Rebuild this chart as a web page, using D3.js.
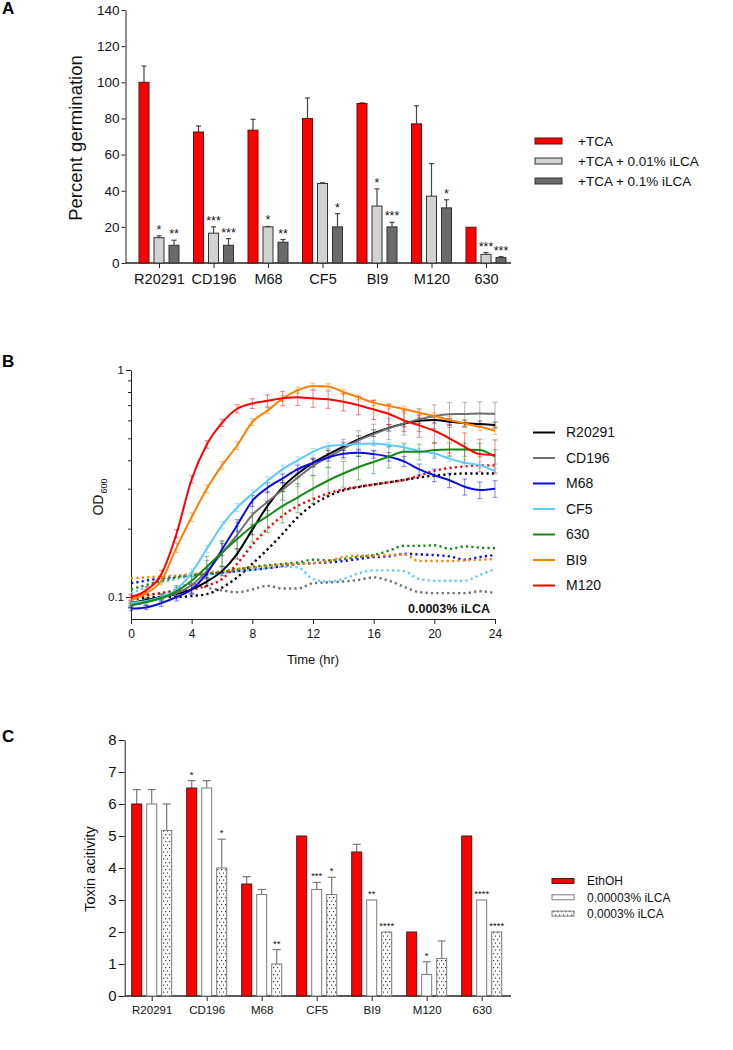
<!DOCTYPE html>
<html>
<head>
<meta charset="utf-8">
<script src="https://cdn.jsdelivr.net/npm/d3@7"></script>
<style>
  body { margin: 0; background: #fff; }
  svg { display: block; font-family: "Liberation Sans", Arial, sans-serif; }
</style>
</head>
<body>
<svg id="fig" width="733" height="1050"></svg>
<script>

//// DATA ////

// strains shared by panels A and C
var strains = ["R20291", "CD196", "M68", "CF5", "BI9", "M120", "630"];

// panel A: percent germination (mean, upper error)
var germTca = [100, 72.5, 73.5, 80, 88.3, 77, 19.8];
var germTcaErr = [9, 3.3, 6, 11.3, 0.3, 10, 0];
var germLow = [14, 16.5, 20, 44, 31.5, 37, 4.8];
var germLowErr = [1, 3.5, 0.2, 0.4, 9.5, 18, 1];
var germHigh = [9.8, 9.8, 11.5, 20, 20, 30.5, 3];
var germHighErr = [2.8, 3.7, 1.5, 7.3, 2.5, 4.5, 0.5];
var germLowStars = ["*", "***", "*", "", "*", "", "***"];
var germHighStars = ["**", "***", "**", "*", "***", "*", "***"];
var germTicks = [0, 20, 40, 60, 80, 100, 120, 140];
var germLegend = ["+TCA", "+TCA + 0.01% iLCA", "+TCA + 0.1% iLCA"];

// panel B: OD600 growth curves, hourly
var hours = [0, 1, 2, 3, 4, 5, 6, 7, 8, 9, 10, 11, 12, 13, 14, 15, 16, 17, 18, 19, 20, 21, 22, 23, 24];
var growthStrains = ["R20291", "CD196", "M68", "CF5", "630", "BI9", "M120"];

var odR20291 = [0.094, 0.097, 0.1, 0.103, 0.108, 0.117, 0.13, 0.155, 0.198, 0.252, 0.305, 0.35, 0.39, 0.425, 0.46, 0.495, 0.527, 0.556, 0.58, 0.597, 0.602, 0.592, 0.583, 0.578, 0.572];
var odCD196 = [0.092, 0.095, 0.099, 0.104, 0.113, 0.13, 0.156, 0.188, 0.23, 0.262, 0.297, 0.336, 0.378, 0.413, 0.45, 0.49, 0.522, 0.553, 0.582, 0.606, 0.627, 0.638, 0.64, 0.644, 0.642];
var odM68 = [0.089, 0.09, 0.094, 0.1, 0.108, 0.127, 0.162, 0.207, 0.265, 0.303, 0.333, 0.366, 0.39, 0.412, 0.428, 0.432, 0.426, 0.415, 0.396, 0.365, 0.344, 0.327, 0.306, 0.296, 0.3];
var odCF5 = [0.094, 0.096, 0.1, 0.108, 0.128, 0.163, 0.207, 0.248, 0.285, 0.325, 0.366, 0.4, 0.436, 0.462, 0.467, 0.472, 0.475, 0.467, 0.456, 0.44, 0.429, 0.407, 0.39, 0.381, 0.358];
var od630 = [0.092, 0.095, 0.099, 0.106, 0.118, 0.136, 0.157, 0.18, 0.205, 0.227, 0.252, 0.275, 0.3, 0.326, 0.35, 0.373, 0.394, 0.415, 0.436, 0.436, 0.444, 0.447, 0.447, 0.444, 0.415];
var odBI9 = [0.097, 0.104, 0.118, 0.165, 0.225, 0.3, 0.38, 0.465, 0.59, 0.662, 0.748, 0.815, 0.85, 0.845, 0.8, 0.758, 0.718, 0.694, 0.673, 0.648, 0.627, 0.602, 0.582, 0.562, 0.54];
var odM120 = [0.1, 0.107, 0.126, 0.19, 0.33, 0.47, 0.585, 0.675, 0.712, 0.732, 0.75, 0.758, 0.75, 0.743, 0.725, 0.7, 0.67, 0.64, 0.6, 0.57, 0.54, 0.5, 0.458, 0.426, 0.422];

var sdR20291 = [0.002, 0.002, 0.003, 0.003, 0.004, 0.005, 0.006, 0.008, 0.01, 0.012, 0.014, 0.015, 0.016, 0.017, 0.018, 0.018, 0.018, 0.018, 0.018, 0.018, 0.018, 0.018, 0.018, 0.018, 0.018];
var sdCD196 = [0.002, 0.003, 0.004, 0.006, 0.01, 0.015, 0.02, 0.025, 0.03, 0.03, 0.03, 0.03, 0.035, 0.04, 0.045, 0.05, 0.055, 0.06, 0.065, 0.07, 0.075, 0.08, 0.08, 0.08, 0.08];
var sdM68 = [0.002, 0.002, 0.003, 0.004, 0.005, 0.007, 0.01, 0.012, 0.015, 0.015, 0.015, 0.015, 0.015, 0.015, 0.016, 0.016, 0.017, 0.018, 0.02, 0.02, 0.022, 0.024, 0.025, 0.025, 0.025];
var sdCF5 = [0.002, 0.002, 0.003, 0.004, 0.005, 0.006, 0.008, 0.01, 0.012, 0.014, 0.015, 0.015, 0.015, 0.015, 0.014, 0.013, 0.012, 0.012, 0.012, 0.012, 0.012, 0.012, 0.012, 0.012, 0.012];
var sd630 = [0.002, 0.003, 0.004, 0.006, 0.01, 0.015, 0.02, 0.025, 0.03, 0.035, 0.04, 0.04, 0.042, 0.045, 0.045, 0.045, 0.045, 0.045, 0.04, 0.035, 0.035, 0.03, 0.03, 0.03, 0.03];
var sdBI9 = [0.003, 0.004, 0.005, 0.008, 0.01, 0.012, 0.015, 0.018, 0.02, 0.02, 0.022, 0.025, 0.025, 0.025, 0.022, 0.02, 0.02, 0.02, 0.02, 0.02, 0.02, 0.02, 0.02, 0.02, 0.02];
var sdM120 = [0.003, 0.004, 0.005, 0.008, 0.012, 0.018, 0.022, 0.028, 0.035, 0.045, 0.055, 0.06, 0.065, 0.065, 0.065, 0.065, 0.065, 0.065, 0.065, 0.065, 0.065, 0.07, 0.07, 0.07, 0.07];

// dotted curves: same strains grown with 0.0003% iLCA
var ilcaR20291 = [0.098, 0.099, 0.1, 0.1, 0.101, 0.103, 0.11, 0.122, 0.14, 0.162, 0.19, 0.225, 0.255, 0.278, 0.295, 0.305, 0.313, 0.32, 0.328, 0.336, 0.343, 0.347, 0.35, 0.35, 0.35];
var ilcaCD196 = [0.1, 0.102, 0.104, 0.108, 0.115, 0.11, 0.107, 0.105, 0.108, 0.112, 0.109, 0.109, 0.115, 0.116, 0.117, 0.119, 0.122, 0.118, 0.111, 0.105, 0.104, 0.104, 0.104, 0.106, 0.104];
var ilcaM68 = [0.115, 0.118, 0.121, 0.123, 0.125, 0.126, 0.128, 0.13, 0.132, 0.134, 0.137, 0.14, 0.141, 0.142, 0.144, 0.147, 0.15, 0.151, 0.155, 0.154, 0.153, 0.151, 0.146, 0.15, 0.153];
var ilcaCF5 = [0.104, 0.11, 0.116, 0.12, 0.124, 0.126, 0.127, 0.13, 0.132, 0.134, 0.136, 0.135, 0.12, 0.117, 0.12, 0.127, 0.131, 0.131, 0.13, 0.12, 0.118, 0.118, 0.118, 0.125, 0.133];
var ilca630 = [0.108, 0.113, 0.118, 0.122, 0.125, 0.127, 0.129, 0.132, 0.136, 0.138, 0.14, 0.142, 0.146, 0.145, 0.147, 0.15, 0.153, 0.16, 0.168, 0.168, 0.169, 0.163, 0.167, 0.165, 0.164];
var ilcaBI9 = [0.121, 0.122, 0.123, 0.124, 0.126, 0.128, 0.13, 0.133, 0.135, 0.137, 0.139, 0.14, 0.141, 0.144, 0.15, 0.152, 0.152, 0.153, 0.154, 0.144, 0.144, 0.144, 0.145, 0.146, 0.147];
var ilcaM120 = [0.1, 0.102, 0.104, 0.106, 0.108, 0.112, 0.12, 0.14, 0.17, 0.2, 0.228, 0.252, 0.27, 0.286, 0.298, 0.306, 0.313, 0.32, 0.328, 0.342, 0.36, 0.37, 0.376, 0.38, 0.38];

var odTicks = [0.1, 1];
var odMinorTicks = [0.09, 0.2, 0.3, 0.4, 0.5, 0.6, 0.7, 0.8, 0.9];
var hourTicks = [0, 4, 8, 12, 16, 20, 24];

// panel C: toxin activity (mean, upper error)
var toxEth = [6, 6.5, 3.5, 5, 4.5, 2, 5];
var toxEthErr = [0.45, 0.23, 0.23, 0, 0.24, 0, 0];
var toxLow = [6, 6.5, 3.17, 3.33, 3, 0.67, 3];
var toxLowErr = [0.45, 0.23, 0.16, 0.22, 0, 0.4, 0];
var toxHigh = [5.17, 4, 1, 3.17, 2, 1.17, 2];
var toxHighErr = [0.83, 0.9, 0.45, 0.54, 0, 0.55, 0];
var toxEthStars = ["", "*", "", "", "", "", ""];
var toxLowStars = ["", "", "", "***", "**", "*", "****"];
var toxHighStars = ["", "*", "**", "*", "****", "", "****"];
var toxTicks = [0, 1, 2, 3, 4, 5, 6, 7, 8];
var toxLegend = ["EthOH", "0.00003% iLCA", "0.0003% iLCA"];


//// DRAWING ////

var svg = d3.select("#fig");

// dot fill used by the 0.0003% iLCA bars in panel C
var pat = svg.append("defs").append("pattern")
    .attr("id", "dots")
    .attr("patternUnits", "userSpaceOnUse")
    .attr("width", 8).attr("height", 7);
pat.append("rect").attr("width", 8).attr("height", 7).attr("fill", "#fff");
[[1, 1], [5, 1], [3, 4.5], [7, 4.5]].forEach(function (p) {
    pat.append("rect").attr("x", p[0]).attr("y", p[1])
        .attr("width", 1.2).attr("height", 1.2).attr("fill", "#333");
});

// panel letters
[["A", 14], ["B", 367], ["C", 742]].forEach(function (l) {
    svg.append("text").attr("x", 2).attr("y", l[1])
        .attr("font-size", 17).attr("font-weight", "bold").text(l[0]);
});

// grouped bar chart with one-sided error bars, used for A and C
function groupedBars(opt) {
    var g = svg.append("g");
    var x = d3.scalePoint().domain(strains).range(opt.xRange);
    var sub = d3.scaleBand().domain([0, 1, 2]).range([-20, 20]).paddingInner(1 / 3);
    var y = d3.scaleLinear().domain(opt.yDomain).range(opt.yRange);
    var base = opt.yRange[0];

    // Y axis
    g.append("g")
        .attr("transform", "translate(" + opt.axisX + ",0)")
        .call(d3.axisLeft(y).tickValues(opt.ticks).tickSize(opt.tickLen).tickSizeOuter(0).tickPadding(2))
        .call(function (a) {
            a.selectAll("text").attr("font-size", opt.tickFont).attr("fill", "#111")
                .style("font-family", "Liberation Sans, Arial, sans-serif");
            a.selectAll("line,path").attr("stroke", "#222");
        });

    // X axis: full-width base line plus category ticks
    g.append("g")
        .attr("transform", "translate(0," + base + ")")
        .call(d3.axisBottom(x).tickSize(5).tickSizeOuter(0).tickPadding(opt.catPad))
        .call(function (a) {
            a.select(".domain").remove();
            a.selectAll("text").attr("font-size", opt.catFont).attr("fill", "#111")
                .style("font-family", "Liberation Sans, Arial, sans-serif");
            a.selectAll("line").attr("stroke", "#222");
        });
    g.append("line")
        .attr("x1", opt.axisX).attr("x2", opt.axisEnd)
        .attr("y1", base).attr("y2", base)
        .attr("stroke", "#222").attr("stroke-width", 1.3);

    // axis title
    g.append("text")
        .attr("transform", "translate(" + opt.titleX + "," + opt.titleY + ") rotate(-90)")
        .attr("text-anchor", "middle").attr("dy", "0.35em")
        .attr("font-size", opt.titleFont).attr("fill", "#111")
        .text(opt.title);

    opt.series.forEach(function (s, k) {
        var rows = strains.map(function (c, i) {
            return { cat: c, v: s.values[i], e: s.errors[i], star: s.stars ? s.stars[i] : "" };
        });
        var cell = g.append("g");

        // error bars first so the bar outline sits on top of the stem
        var err = cell.selectAll(".err").data(rows.filter(function (d) { return d.e > 0; }))
            .enter().append("g").attr("stroke", opt.errColor).attr("stroke-width", 1.2);
        err.append("line")
            .attr("x1", function (d) { return x(d.cat) + sub(k) + sub.bandwidth() / 2; })
            .attr("x2", function (d) { return x(d.cat) + sub(k) + sub.bandwidth() / 2; })
            .attr("y1", function (d) { return y(d.v); })
            .attr("y2", function (d) { return y(d.v + d.e); });
        err.append("line")
            .attr("x1", function (d) { return x(d.cat) + sub(k) + sub.bandwidth() / 2 - opt.capW / 2; })
            .attr("x2", function (d) { return x(d.cat) + sub(k) + sub.bandwidth() / 2 + opt.capW / 2; })
            .attr("y1", function (d) { return y(d.v + d.e); })
            .attr("y2", function (d) { return y(d.v + d.e); });

        cell.selectAll(".bar").data(rows).enter().append("rect")
            .attr("x", function (d) { return x(d.cat) + sub(k); })
            .attr("y", function (d) { return y(d.v); })
            .attr("width", sub.bandwidth())
            .attr("height", function (d) { return base - y(d.v); })
            .attr("fill", s.fill)
            .attr("stroke", s.stroke).attr("stroke-width", 1);

        cell.selectAll(".star").data(rows.filter(function (d) { return d.star; }))
            .enter().append("text")
            .attr("x", function (d) { return x(d.cat) + sub(k) + sub.bandwidth() / 2; })
            .attr("y", function (d) { return y(d.v + d.e) + opt.starDy; })
            .attr("text-anchor", "middle")
            .attr("font-size", opt.starFont).attr("fill", "#111")
            .text(function (d) { return d.star; });
    });

    // legend
    var lg = g.append("g");
    opt.series.forEach(function (s, k) {
        var ly = opt.legendY + k * opt.legendStep;
        lg.append("rect")
            .attr("x", opt.legendX).attr("y", ly - opt.swatchH / 2)
            .attr("width", opt.swatchW).attr("height", opt.swatchH)
            .attr("fill", s.fill).attr("stroke", s.stroke).attr("stroke-width", 1);
        lg.append("text")
            .attr("x", opt.legendX + opt.textOffset).attr("y", ly).attr("dy", "0.35em")
            .attr("font-size", opt.legendFont).attr("fill", "#111")
            .text(s.name);
    });
}

// ---------- panel A ----------
groupedBars({
    xRange: [159, 486], yDomain: [0, 140], yRange: [263, 10],
    axisX: 125.5, axisEnd: 511, ticks: germTicks, tickLen: 4,
    tickFont: 13.5, catFont: 14.5, catPad: 6,
    title: "Percent germination", titleX: 76, titleY: 138, titleFont: 18.5,
    errColor: "#444", capW: 5, starFont: 12.5, starDy: -2,
    series: [
        { name: germLegend[0], values: germTca, errors: germTcaErr, fill: "#ff0000", stroke: "#5a1010" },
        { name: germLegend[1], values: germLow, errors: germLowErr, stars: germLowStars, fill: "#d2d2d2", stroke: "#333" },
        { name: germLegend[2], values: germHigh, errors: germHighErr, stars: germHighStars, fill: "#6a6a6a", stroke: "#333" }
    ],
    legendX: 535, legendY: 141, legendStep: 20, swatchW: 27, swatchH: 6,
    textOffset: 43, legendFont: 13.5
});

// ---------- panel B ----------
var growthColor = {
    "R20291": "#000000", "CD196": "#6e6e6e", "M68": "#0b0be6", "CF5": "#5ec8ff",
    "630": "#138a13", "BI9": "#ff8000", "M120": "#ff0000"
};
var growth = [
    { name: "R20291", od: odR20291, sd: sdR20291, ilca: ilcaR20291 },
    { name: "CD196", od: odCD196, sd: sdCD196, ilca: ilcaCD196 },
    { name: "M68", od: odM68, sd: sdM68, ilca: ilcaM68 },
    { name: "CF5", od: odCF5, sd: sdCF5, ilca: ilcaCF5 },
    { name: "630", od: od630, sd: sd630, ilca: ilca630 },
    { name: "BI9", od: odBI9, sd: sdBI9, ilca: ilcaBI9 },
    { name: "M120", od: odM120, sd: sdM120, ilca: ilcaM120 }
];

var gB = svg.append("g");
var xB = d3.scaleLinear().domain([0, 24]).range([131, 495]);
var yB = d3.scaleLog().domain([0.08, 1]).range([619, 370]);

gB.append("g")
    .attr("transform", "translate(0,619)")
    .call(d3.axisBottom(xB).tickValues(hourTicks).tickSize(5).tickPadding(5).tickSizeOuter(0))
    .call(function (a) {
        a.selectAll("text").attr("font-size", 12).attr("fill", "#111")
            .style("font-family", "Liberation Sans, Arial, sans-serif");
        a.selectAll("line,path").attr("stroke", "#222");
    });
gB.append("g")
    .attr("transform", "translate(131,0)")
    .call(d3.axisLeft(yB).tickValues(odTicks).tickFormat(d3.format("")).tickSize(5).tickPadding(2).tickSizeOuter(0))
    .call(function (a) {
        a.selectAll("text").attr("font-size", 11.5).attr("fill", "#111")
            .style("font-family", "Liberation Sans, Arial, sans-serif");
        a.selectAll("line,path").attr("stroke", "#222");
    });
gB.append("g")
    .attr("transform", "translate(131,0)")
    .call(d3.axisLeft(yB).tickValues(odMinorTicks).tickFormat("").tickSize(3).tickSizeOuter(0))
    .call(function (a) {
        a.select(".domain").remove();
        a.selectAll("line").attr("stroke", "#222");
    });

gB.append("text")
    .attr("x", 313).attr("y", 664).attr("text-anchor", "middle")
    .attr("font-size", 13).attr("fill", "#111").text("Time (hr)");
var odLabel = gB.append("text")
    .attr("transform", "translate(103,497) rotate(-90)")
    .attr("text-anchor", "middle").attr("font-size", 14).attr("fill", "#111");
odLabel.append("tspan").text("OD");
odLabel.append("tspan").attr("font-size", 9).attr("dy", 4).attr("dx", 1).text("600");

gB.append("text")
    .attr("x", 490).attr("y", 613).attr("text-anchor", "end")
    .attr("font-size", 12.5).attr("font-weight", "bold").attr("fill", "#111")
    .text("0.0003% iLCA");

var lineB = d3.line()
    .x(function (d) { return xB(d.t); })
    .y(function (d) { return yB(d.v); })
    .curve(d3.curveMonotoneX);

function pts(arr) {
    return hours.map(function (t, i) { return { t: t, v: arr[i] }; });
}

// iLCA-treated cultures, dotted
growth.forEach(function (s) {
    gB.append("path")
        .attr("d", lineB(pts(s.ilca)))
        .attr("fill", "none")
        .attr("stroke", growthColor[s.name])
        .attr("stroke-width", 2.4)
        .attr("stroke-dasharray", "2.2,3.2");
});

// error bars for untreated cultures
growth.forEach(function (s) {
    var eb = gB.append("g")
        .attr("stroke", growthColor[s.name])
        .attr("stroke-opacity", 0.5)
        .attr("stroke-width", 1);
    hours.forEach(function (t, i) {
        var cx = xB(t), hi = yB(s.od[i] + s.sd[i]), lo = yB(s.od[i] - s.sd[i]);
        eb.append("line").attr("x1", cx).attr("x2", cx).attr("y1", hi).attr("y2", lo);
        eb.append("line").attr("x1", cx - 2.5).attr("x2", cx + 2.5).attr("y1", hi).attr("y2", hi);
        eb.append("line").attr("x1", cx - 2.5).attr("x2", cx + 2.5).attr("y1", lo).attr("y2", lo);
    });
});

// untreated cultures, solid
growth.forEach(function (s) {
    gB.append("path")
        .attr("d", lineB(pts(s.od)))
        .attr("fill", "none")
        .attr("stroke", growthColor[s.name])
        .attr("stroke-width", 2);
});

// legend B
growthStrains.forEach(function (name, k) {
    var ly = 432.5 + k * 25.5;
    gB.append("line")
        .attr("x1", 533).attr("x2", 555).attr("y1", ly).attr("y2", ly)
        .attr("stroke", growthColor[name]).attr("stroke-width", 2);
    gB.append("text")
        .attr("x", 566).attr("y", ly).attr("dy", "0.35em")
        .attr("font-size", 14).attr("fill", "#111").text(name);
});

// ---------- panel C ----------
groupedBars({
    xRange: [151.7, 481.7], yDomain: [0, 8], yRange: [996, 740],
    axisX: 124.7, axisEnd: 511, ticks: toxTicks, tickLen: 6,
    tickFont: 15, catFont: 11.5, catPad: 5,
    title: "Toxin acitivity", titleX: 90, titleY: 869, titleFont: 14.5,
    errColor: "#7a7a7a", capW: 8, starFont: 9.5, starDy: -3,
    series: [
        { name: toxLegend[0], values: toxEth, errors: toxEthErr, stars: toxEthStars, fill: "#ff0000", stroke: "#4a1a1a" },
        { name: toxLegend[1], values: toxLow, errors: toxLowErr, stars: toxLowStars, fill: "#ffffff", stroke: "#7a7a7a" },
        { name: toxLegend[2], values: toxHigh, errors: toxHighErr, stars: toxHighStars, fill: "url(#dots)", stroke: "#7a7a7a" }
    ],
    legendX: 552, legendY: 881, legendStep: 16.3, swatchW: 22, swatchH: 5,
    textOffset: 35, legendFont: 12
});

</script>
</body>
</html>
